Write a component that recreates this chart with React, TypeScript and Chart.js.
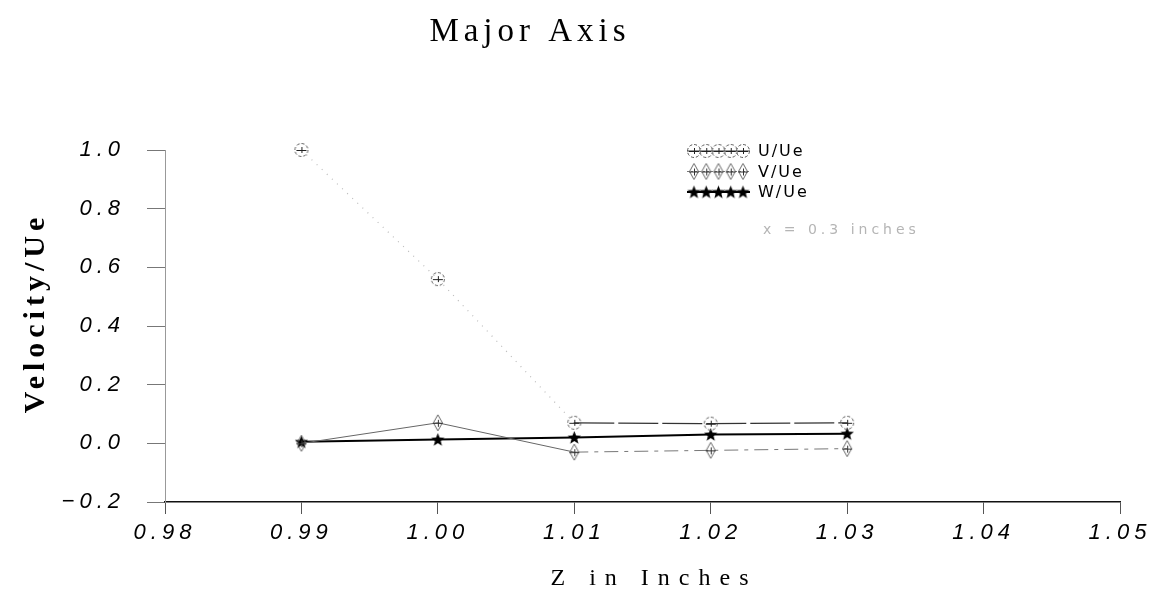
import React, { useEffect, useRef } from "react";
import { Chart, registerables } from "chart.js";

Chart.register(...registerables);

const zValues = [0.99, 1.0, 1.01, 1.02, 1.03];
const uValues = [1.0, 0.56, 0.07, 0.067, 0.07];
const vValues = [0.0, 0.07, -0.03, -0.024, -0.018];
const wValues = [0.005, 0.013, 0.02, 0.03, 0.033];
const seriesLabels = ["U/Ue", "V/Ue", "W/Ue"];
const noteText = "x = 0.3 inches";
const titleText = "Major Axis";
const xTitleText = "Z in Inches";
const yTitleText = "Velocity/Ue";

function makeCanvas(w: number, h: number) {
  const c = document.createElement("canvas");
  c.width = w;
  c.height = h;
  return c;
}

function circleMarker() {
  const c = makeCanvas(16, 16);
  const g = c.getContext("2d")!;
  g.strokeStyle = "#555";
  g.lineWidth = 1;
  g.setLineDash([3, 2]);
  g.beginPath();
  g.arc(8, 8, 6.5, 0, Math.PI * 2);
  g.stroke();
  g.setLineDash([]);
  g.strokeStyle = "#222";
  g.beginPath();
  g.moveTo(3, 8.5);
  g.lineTo(13, 8.5);
  g.moveTo(8.5, 5);
  g.lineTo(8.5, 11);
  g.stroke();
  return c;
}

function diamondMarker() {
  const c = makeCanvas(12, 18);
  const g = c.getContext("2d")!;
  g.strokeStyle = "#666";
  g.lineWidth = 1;
  g.beginPath();
  g.moveTo(6, 1);
  g.lineTo(10.5, 9);
  g.lineTo(6, 17);
  g.lineTo(1.5, 9);
  g.closePath();
  g.stroke();
  g.strokeStyle = "#333";
  g.beginPath();
  g.moveTo(1, 9.5);
  g.lineTo(11, 9.5);
  g.moveTo(6.5, 6);
  g.lineTo(6.5, 13);
  g.stroke();
  return c;
}

function starMarker() {
  const c = makeCanvas(15, 15);
  const g = c.getContext("2d")!;
  g.fillStyle = "#000";
  g.beginPath();
  for (let i = 0; i < 10; i++) {
    const r = i % 2 === 0 ? 7 : 3;
    const a = -Math.PI / 2 + (i * Math.PI) / 5;
    const x = 7.5 + r * Math.cos(a);
    const y = 8 + r * Math.sin(a);
    if (i === 0) g.moveTo(x, y);
    else g.lineTo(x, y);
  }
  g.closePath();
  g.fill();
  return c;
}

export default function App() {
  const ref = useRef<HTMLCanvasElement>(null);

  useEffect(() => {
    const canvas = ref.current!;
    const markers = [circleMarker(), diamondMarker(), starMarker()];
    const lineStyles = [
      { color: "#333", width: 1.2 },
      { color: "#777", width: 1 },
      { color: "#000", width: 2 },
    ];

    const textPlugin = {
      id: "textPlugin",
      beforeDraw(chart: any) {
        chart.ctx.letterSpacing = "5px";
      },
      afterDraw(chart: any) {
        const ctx = chart.ctx;
        ctx.save();
        ctx.fillStyle = "#000";
        ctx.letterSpacing = "5px";
        ctx.font = "33px 'Liberation Serif'";
        ctx.textAlign = "center";
        ctx.textBaseline = "alphabetic";
        ctx.fillText(titleText, 530, 41);
        ctx.letterSpacing = "9px";
        ctx.font = "24px 'Liberation Serif'";
        ctx.fillText(xTitleText, 654, 585);
        ctx.save();
        ctx.translate(44, 313);
        ctx.rotate(-Math.PI / 2);
        ctx.letterSpacing = "5px";
        ctx.font = "bold 30px 'Liberation Serif'";
        ctx.fillText(yTitleText, 0, 0);
        ctx.restore();

        const x0 = 687;
        const x1 = 750;
        const m0 = 694;
        const m1 = 743;
        chart.data.datasets.forEach((ds: any, i: number) => {
          const y = 151 + i * 20.5;
          const st = lineStyles[i];
          ctx.strokeStyle = st.color;
          ctx.lineWidth = st.width;
          ctx.setLineDash(i === 1 ? [2, 2] : []);
          ctx.beginPath();
          ctx.moveTo(x0, y);
          ctx.lineTo(x1, y);
          ctx.stroke();
          ctx.setLineDash([]);
          for (let k = 0; k < 5; k++) {
            const m = markers[i];
            const mx = m0 + (k * (m1 - m0)) / 4;
            ctx.drawImage(m, mx - m.width / 2, y - m.height / 2);
          }
          ctx.letterSpacing = "2px";
          ctx.font = "16px 'DejaVu Sans'";
          ctx.textAlign = "left";
          ctx.textBaseline = "middle";
          ctx.fillStyle = "#000";
          ctx.fillText(ds.label, 758, y + 1);
        });
        ctx.letterSpacing = "4px";
        ctx.font = "14px 'DejaVu Sans'";
        ctx.fillStyle = "#b5b5b5";
        ctx.textAlign = "left";
        ctx.textBaseline = "middle";
        ctx.fillText(noteText, 763, 230);
        ctx.restore();
      },
    };

    const seg = (i: number) => ({
      borderColor: (c: any) => {
        if (i === 0) return c.p0DataIndex < 2 ? "#bbb" : "#333";
        if (i === 1) return c.p0DataIndex < 2 ? "#666" : "#777";
        return "#000";
      },
      borderDash: (c: any) => {
        if (i === 0) return c.p0DataIndex < 2 ? [1, 6] : [40, 4];
        if (i === 1) return c.p0DataIndex < 2 ? [] : [14, 6, 4, 6];
        return [];
      },
    });

    const mk = (i: number, vals: number[]) => ({
      label: seriesLabels[i],
      data: zValues.map((z, k) => ({ x: z, y: vals[k] })),
      borderColor: lineStyles[i].color,
      borderWidth: lineStyles[i].width,
      pointStyle: markers[i],
      pointRadius: 7,
      clip: false,
      segment: seg(i),
    });

    const chart = new Chart(canvas, {
      type: "line",
      data: {
        datasets: [mk(0, uValues), mk(1, vValues), mk(2, wValues)],
      },
      plugins: [textPlugin],
      options: {
        animation: false,
        responsive: false,
        devicePixelRatio: 1,
        layout: { padding: { left: 0, top: 150, right: 32, bottom: 0 } },
        plugins: {
          legend: { display: false },
          tooltip: { enabled: false },
          title: { display: false },
        },
        scales: {
          x: {
            type: "linear",
            min: 0.98,
            max: 1.05,
            afterFit: (s: any) => {
              s.height = 89;
            },
            ticks: {
              stepSize: 0.01,
              color: "#000",
              padding: 6,
              font: { family: "'Liberation Sans'", size: 22, style: "italic" },
              callback: (v: any) => Number(v).toFixed(2),
            },
            grid: {
              drawOnChartArea: false,
              drawTicks: true,
              tickLength: 12,
              color: "#555",
              lineWidth: 1,
            },
            border: { display: true, color: "#111", width: 1.6 },
          },
          y: {
            type: "linear",
            min: -0.2,
            max: 1.0,
            afterFit: (s: any) => {
              s.width = 165;
            },
            ticks: {
              stepSize: 0.1,
              color: "#000",
              padding: 22,
              font: { family: "'Liberation Sans'", size: 22, style: "italic" },
              callback: (v: any) => {
                const n = Math.round(Number(v) * 10);
                if (n % 2 !== 0) return "";
                const s = (Math.abs(n) / 10).toFixed(1);
                return n < 0 ? "\u2212" + s : s;
              },
            },
            grid: {
              drawOnChartArea: false,
              drawTicks: true,
              tickLength: 18,
              color: "#777",
              lineWidth: 1,
            },
            border: { display: true, color: "#999", width: 1, dash: [2, 4] },
          },
        },
      },
    } as any);

    return () => chart.destroy();
  }, []);

  return (
    <div style={{ position: "fixed", left: 0, top: 0, width: 1152, height: 591, background: "#fff" }}>
      <canvas ref={ref} width={1152} height={591} style={{ width: 1152, height: 591, display: "block" }} />
    </div>
  );
}
